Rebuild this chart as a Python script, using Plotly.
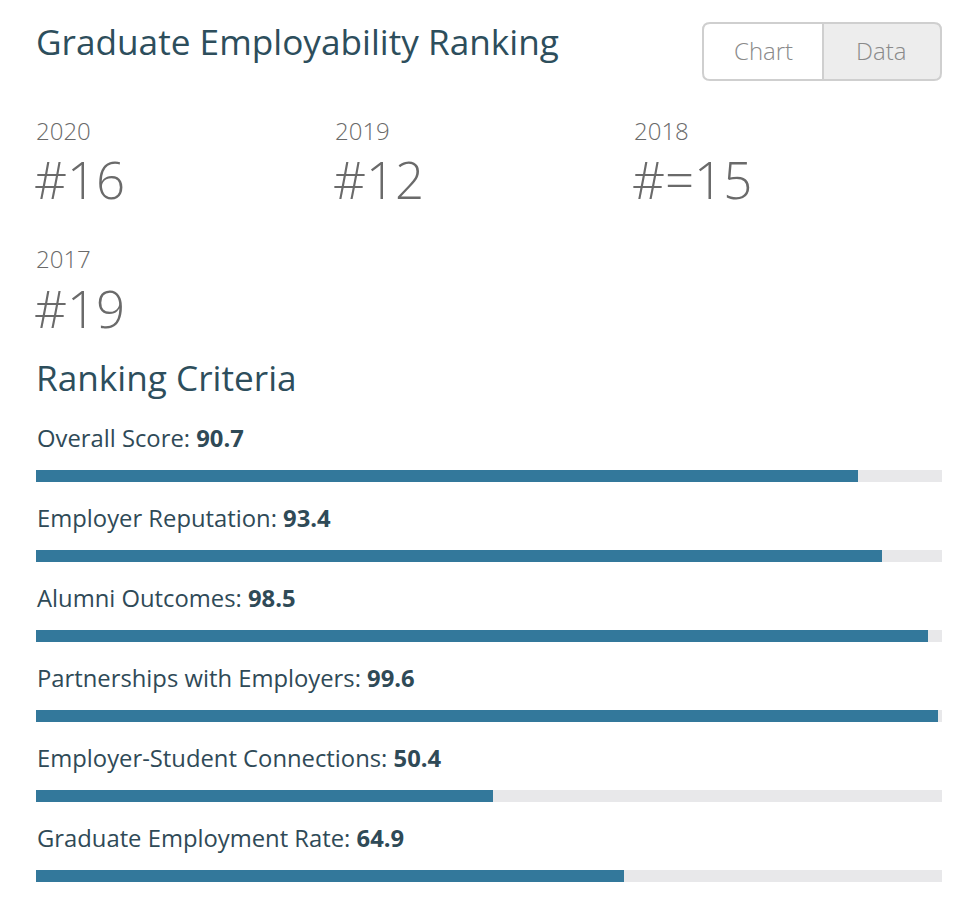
import plotly.graph_objects as go

# the page body has an 8px margin, so the figure is drawn 8px in from the corner
OFF = 8
W, H = 966 - 2 * OFF, 914 - 2 * OFF

years = ["2020", "2019", "2018", "2017"]
ranks = ["#16", "#12", "#=15", "#19"]

criteria = [
    "Overall Score",
    "Employer Reputation",
    "Alumni Outcomes",
    "Partnerships with Employers",
    "Employer-Student Connections",
    "Graduate Employment Rate",
]
scores = [90.7, 93.4, 98.5, 99.6, 50.4, 64.9]
max_score = [100] * len(scores)

BAR = "#33789b"
TRACK = "#e8e8ea"
HEAD = "#2d4e5c"
LABEL = "#2f4a57"
GREY = "#6a6a6a"

TITLE_FONT = "Open Sans"
BODY_FONT = "Open Sans"


def px(x):
    return (x - OFF) / W


def py(y):
    return 1 - (y - OFF) / H


rows = list(range(len(criteria)))

fig = go.Figure()

# background track
fig.add_trace(go.Bar(
    x=max_score, y=rows, orientation="h",
    marker=dict(color=TRACK, line=dict(width=0)),
    width=0.15, hoverinfo="skip", showlegend=False
))

# score bars
fig.add_trace(go.Bar(
    x=scores, y=rows, orientation="h",
    marker=dict(color=BAR, line=dict(width=0)),
    width=0.15, showlegend=False,
    customdata=criteria,
    hovertemplate="%{customdata}: %{x}<extra></extra>"
))

# criteria labels above each bar
for i, (name, val) in enumerate(zip(criteria, scores)):
    fig.add_annotation(
        x=px(35), y=i, xref="paper", yref="y",
        text=f"{name}: <b>{val}</b>",
        showarrow=False, xanchor="left", yanchor="middle", yshift=38,
        font=dict(family=BODY_FONT, size=23.8, color=LABEL)
    )

# headings
fig.add_annotation(
    x=px(34), y=py(41), xref="paper", yref="paper",
    text="Graduate Employability Ranking", showarrow=False,
    xanchor="left", yanchor="middle",
    font=dict(family=TITLE_FONT, size=35.2, color=HEAD)
)
fig.add_annotation(
    x=px(34), y=py(377), xref="paper", yref="paper",
    text="Ranking Criteria", showarrow=False,
    xanchor="left", yanchor="middle",
    font=dict(family=TITLE_FONT, size=35.2, color=HEAD)
)

# yearly ranks
for k, (yr, rk) in enumerate(zip(years, ranks)):
    col, row = k % 3, k // 3
    x0 = 34 + col * 299
    y0 = 130 + row * 129
    fig.add_annotation(
        x=px(x0), y=py(y0), xref="paper", yref="paper",
        text=yr, showarrow=False, xanchor="left", yanchor="middle",
        font=dict(family=BODY_FONT, size=24, color=GREY, weight=300)
    )
    fig.add_annotation(
        x=px(x0 - 2), y=py(y0 + 49), xref="paper", yref="paper",
        text=rk, showarrow=False, xanchor="left", yanchor="middle",
        font=dict(family=BODY_FONT, size=51, color=GREY, weight=300)
    )


# Chart / Data toggle
def rounded(x0, y0, x1, y1, r, left=True, right=True):
    X0, X1 = px(x0), px(x1)
    Y0, Y1 = py(y0), py(y1)
    rx, ry = r / W, r / H
    p = ""
    if left:
        p += f"M {X0 + rx},{Y0} "
    else:
        p += f"M {X0},{Y0} "
    if right:
        p += f"L {X1 - rx},{Y0} Q {X1},{Y0} {X1},{Y0 - ry} L {X1},{Y1 + ry} Q {X1},{Y1} {X1 - rx},{Y1} "
    else:
        p += f"L {X1},{Y0} L {X1},{Y1} "
    if left:
        p += f"L {X0 + rx},{Y1} Q {X0},{Y1} {X0},{Y1 + ry} L {X0},{Y0 - ry} Q {X0},{Y0} {X0 + rx},{Y0} Z"
    else:
        p += f"L {X0},{Y1} Z"
    return p


fig.add_shape(type="path", xref="paper", yref="paper",
              path=rounded(823, 23, 941, 80, 7, left=False),
              fillcolor="#ededed", line=dict(width=0), layer="below")
fig.add_shape(type="path", xref="paper", yref="paper",
              path=rounded(703, 23, 941, 80, 7),
              fillcolor="rgba(0,0,0,0)", line=dict(color="#cfcfcf", width=2))
fig.add_shape(type="line", xref="paper", yref="paper",
              x0=px(823), x1=px(823), y0=py(23), y1=py(80),
              line=dict(color="#cfcfcf", width=2))
fig.add_annotation(x=px(763), y=py(50), xref="paper", yref="paper",
                   text="Chart", showarrow=False, xanchor="center", yanchor="middle",
                   font=dict(family=BODY_FONT, size=24, color="#8a8a8a", weight=300))
fig.add_annotation(x=px(881), y=py(50), xref="paper", yref="paper",
                   text="Data", showarrow=False, xanchor="center", yanchor="middle",
                   font=dict(family=BODY_FONT, size=24, color="#8a8a8a", weight=300))

# row i centred at 476 + 80*i px from the window top
unit = 80
top = -(476 - OFF) / unit
bottom = top + H / unit

fig.update_layout(
    width=W, height=H,
    margin=dict(l=0, r=0, t=0, b=0),
    paper_bgcolor="white", plot_bgcolor="white",
    barmode="overlay", bargap=0,
    xaxis=dict(domain=[px(36), px(942)], range=[0, 100], visible=False, fixedrange=True),
    yaxis=dict(range=[bottom, top], visible=False, fixedrange=True),
    hovermode="closest",
)

fig.write_html("out.html")
